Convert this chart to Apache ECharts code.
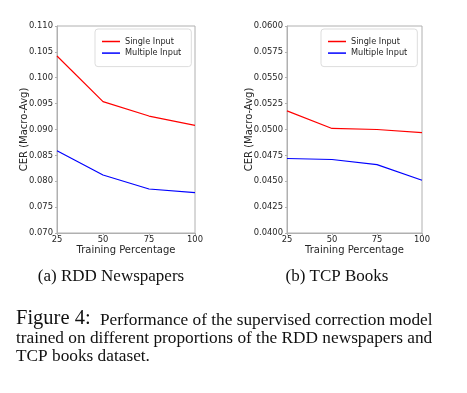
<!DOCTYPE html>
<html><head><meta charset="utf-8">
<script src="https://cdn.jsdelivr.net/npm/echarts@6/dist/echarts.min.js"></script>
<style>html,body{margin:0;padding:0;background:#fff}#c{width:467px;height:393px}</style>
</head><body><div id="c"></div>
<script>
const trainingPct = [25, 50, 75, 100];
const rddSingle = [0.1042, 0.0954, 0.0926, 0.0908];
const rddMultiple = [0.0859, 0.0812, 0.0785, 0.0778];
const tcpSingle = [0.0518, 0.0501, 0.0500, 0.0497];
const tcpMultiple = [0.0472, 0.0471, 0.0466, 0.0451];
const seriesNames = ['Single Input', 'Multiple Input'];
const subCaptions = ['(a) RDD Newspapers', '(b) TCP Books'];
const figLines = ['Performance of the supervised correction model', 'trained on different proportions of the RDD newspapers and', 'TCP books dataset.'];

const pairs = (ys) => trainingPct.map((x, i) => [x, ys[i]]);
const tickFont = {fontFamily: 'DejaVu Sans', fontSize: 8.4, color: '#262626'};
const nameFont = {fontFamily: 'DejaVu Sans', fontSize: 10, color: '#262626'};
const gray = '#b0b0b0';

function xAx(gi) {
  return {gridIndex: gi, type: 'value', min: 25, max: 100, interval: 25,
    name: 'Training Percentage', nameLocation: 'middle', nameGap: 12.5, nameTextStyle: nameFont, nameMoveOverlap: false,
    axisLine: {show: true, lineStyle: {color: gray}}, axisTick: {show: true, length: 2, lineStyle: {color: gray}},
    splitLine: {show: false}, axisLabel: Object.assign({margin: 3}, tickFont)};
}
function yAx(gi, min, max, interval, dec, gap) {
  return {gridIndex: gi, type: 'value', min: min, max: max, interval: interval,
    name: 'CER (Macro-Avg)', nameLocation: 'middle', nameGap: gap, nameTextStyle: nameFont, nameMoveOverlap: false,
    axisLine: {show: true, lineStyle: {color: gray}}, axisTick: {show: true, length: 2, lineStyle: {color: gray}},
    splitLine: {show: false}, axisLabel: Object.assign({margin: 4, formatter: v => v.toFixed(dec)}, tickFont)};
}
function ser(name, gi, ys, color) {
  return {name: name, type: 'line', xAxisIndex: gi, yAxisIndex: gi, data: pairs(ys), symbol: 'none',
    lineStyle: {color: color, width: 1.2}, itemStyle: {color: color}, animation: false};
}
function leg(left) {
  return {orient: 'vertical', left: left, top: 29, data: seriesNames, icon: 'rect', padding: [8, 10, 9, 7], itemGap: 2.6,
    itemWidth: 18, itemHeight: 1.5, backgroundColor: '#fff', borderColor: '#dddddd', borderWidth: 1, borderRadius: 3,
    textStyle: {fontFamily: 'DejaVu Sans', fontSize: 8.2, lineHeight: 9, color: '#262626'}, selectedMode: false};
}
const serif = 'Liberation Serif';
const chart = echarts.init(document.getElementById('c'), null, {renderer: 'canvas'});
chart.setOption({
  animation: false,
  backgroundColor: '#fff',
  grid: [
    {left: 57, right: 272, top: 26, bottom: 160, show: true, borderColor: gray, borderWidth: 1, backgroundColor: 'transparent'},
    {left: 287, right: 45, top: 26, bottom: 160, show: true, borderColor: gray, borderWidth: 1, backgroundColor: 'transparent'}
  ],
  xAxis: [xAx(0), xAx(1)],
  yAxis: [yAx(0, 0.070, 0.110, 0.005, 3, 27.5), yAx(1, 0.040, 0.060, 0.0025, 4, 32.5)],
  legend: [leg(95), leg(321)],
  series: [
    ser(seriesNames[0], 0, rddSingle, '#ff0000'),
    ser(seriesNames[1], 0, rddMultiple, '#0000ff'),
    ser(seriesNames[0], 1, tcpSingle, '#ff0000'),
    ser(seriesNames[1], 1, tcpMultiple, '#0000ff')
  ],
  graphic: [
    {type: 'text', x: 111, y: 277, style: {text: subCaptions[0], font: '17px "' + serif + '"', fill: '#111', align: 'center', verticalAlign: 'middle'}},
    {type: 'text', x: 337, y: 277, style: {text: subCaptions[1], font: '17px "' + serif + '"', fill: '#111', align: 'center', verticalAlign: 'middle'}},
    {type: 'text', x: 16, y: 319, style: {text: 'Figure 4:', font: '20.5px "' + serif + '"', fill: '#111', align: 'left', verticalAlign: 'middle'}},
    {type: 'text', x: 100, y: 320, style: {text: figLines[0], font: '17.3px "' + serif + '"', fill: '#111', align: 'left', verticalAlign: 'middle'}},
    {type: 'text', x: 16, y: 338, style: {text: figLines[1], font: '17.3px "' + serif + '"', fill: '#111', align: 'left', verticalAlign: 'middle'}},
    {type: 'text', x: 16, y: 356, style: {text: figLines[2], font: '17.3px "' + serif + '"', fill: '#111', align: 'left', verticalAlign: 'middle'}}
  ]
});
</script></body></html>
